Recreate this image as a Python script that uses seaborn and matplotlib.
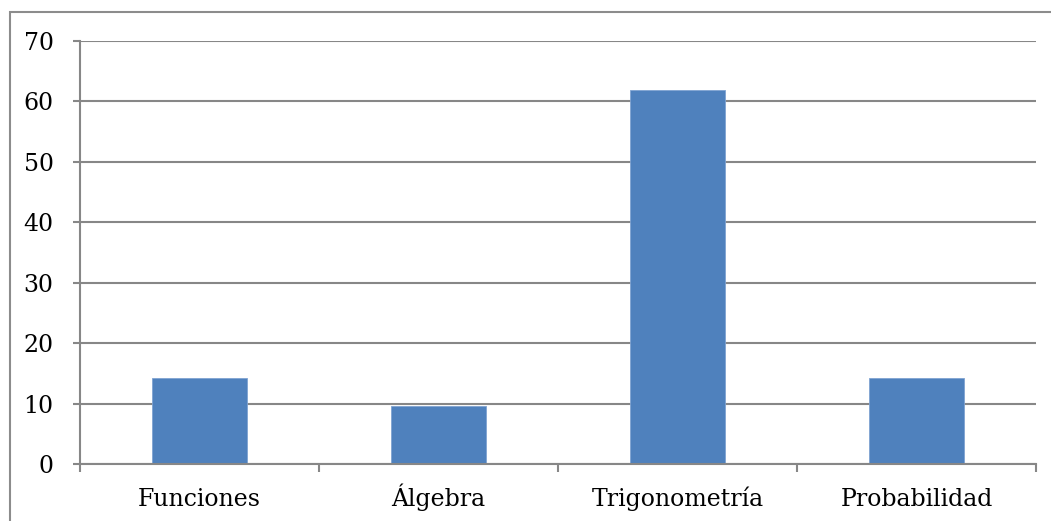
import matplotlib
matplotlib.use("Agg")
import matplotlib.pyplot as plt
import seaborn as sns
import pandas as pd
from matplotlib.patches import Rectangle

categories = ["Funciones", "Álgebra", "Trigonometría", "Probabilidad"]
values = [14.29, 9.52, 61.90, 14.29]
yticks = [0, 10, 20, 30, 40, 50, 60, 70]

df = pd.DataFrame({"cat": categories, "val": values})

sns.set_style("white")
plt.rcParams["font.family"] = ["DejaVu Serif"]

fig = plt.figure(figsize=(10.51, 5.21), dpi=100)
ax = fig.add_axes([80/1051, 1-464/521, (1036-80)/1051, (464-41)/521])

sns.barplot(data=df, x="cat", y="val", color="#4F81BD", width=0.4,
            saturation=1, ax=ax, edgecolor="#7FA3D2", linewidth=0.6)

ax.set_ylim(0, 70)
ax.set_xlim(-0.5, 3.5)
ax.set_yticks(yticks)
ax.set_yticklabels([str(t) for t in yticks])
ax.set_xlabel("")
ax.set_ylabel("")

gc = "#878787"
ax.yaxis.grid(True, color=gc, linewidth=1.5)
ax.set_axisbelow(True)
for s in ["top", "right"]:
    ax.spines[s].set_visible(False)
for s in ["left", "bottom"]:
    ax.spines[s].set_color(gc)
    ax.spines[s].set_linewidth(1.5)

ax.tick_params(axis="y", which="major", length=5, width=1.5, color=gc,
               pad=14, labelsize=17, direction="out", left=True,
               labelcolor="black")
ax.set_xticks([-0.5, 0.5, 1.5, 2.5, 3.5], minor=True)
ax.tick_params(axis="x", which="major", length=0, pad=30, labelsize=17,
               labelcolor="black")
ax.tick_params(axis="x", which="minor", length=6, width=1.5, color=gc,
               direction="out", bottom=True)
plt.setp(ax.get_xticklabels(), va="baseline")

fig.patches.append(Rectangle((10/1051, -0.1), 1.2, 1.1 - 12/521,
                             transform=fig.transFigure, fill=False,
                             edgecolor="#8c8c8c", linewidth=1.5))

fig.savefig("out.png", dpi=100)
